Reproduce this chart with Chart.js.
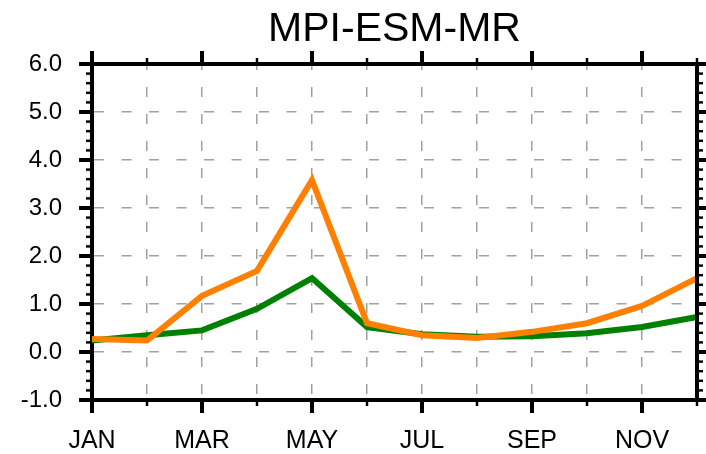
<!DOCTYPE html>
<html>
<head>
<meta charset="utf-8">
<title>MPI-ESM-MR</title>
<script src="https://cdn.jsdelivr.net/npm/chart.js@4"></script>
<style>
    body { margin: 0; background: #fff; }
    canvas { display: block; }
</style>
</head>
<body>
<canvas id="chart" width="706" height="454"></canvas>
<script>
// Data
const months = ['JAN', 'FEB', 'MAR', 'APR', 'MAY', 'JUN', 'JUL', 'AUG', 'SEP', 'OCT', 'NOV', 'DEC'];
const orangeVals = [0.27, 0.24, 1.17, 1.69, 3.58, 0.60, 0.35, 0.29, 0.42, 0.60, 0.96, 1.54];
const greenVals = [0.24, 0.35, 0.45, 0.90, 1.54, 0.52, 0.37, 0.32, 0.33, 0.39, 0.52, 0.73];
const yMin = -1;
const yMax = 6;

const FONT = "'Liberation Sans', Arial, Helvetica, sans-serif";

// Outward tick marks on all four sides, plus top/right frame
const tickMarks = {
    id: 'tickMarks',
    afterDraw(chart) {
        const { ctx, chartArea: a, scales: { x, y } } = chart;
        const line = (x1, y1, x2, y2) => {
            ctx.beginPath();
            ctx.moveTo(x1, y1);
            ctx.lineTo(x2, y2);
            ctx.stroke();
        };
        ctx.save();
        ctx.strokeStyle = '#000';
        ctx.lineCap = 'butt';

        ctx.lineWidth = 4;
        ctx.beginPath();
        ctx.moveTo(a.left - 2, a.top);
        ctx.lineTo(a.right, a.top);
        ctx.lineTo(a.right, a.bottom + 2);
        ctx.stroke();

        for (let k = yMin * 5; k <= yMax * 5; k++) {
            const major = k % 5 === 0;
            const len = major ? 13 : 6;
            ctx.lineWidth = major ? 4 : 2.5;
            const py = y.getPixelForValue(k / 5);
            line(a.left - len, py, a.left, py);
            line(a.right, py, a.right + len, py);
        }

        months.forEach((m, i) => {
            const major = i % 2 === 0;
            const len = major ? 13 : 6;
            ctx.lineWidth = major ? 4 : 2.5;
            const px = x.getPixelForValue(i);
            line(px, a.bottom, px, a.bottom + len);
            line(px, a.top - len, px, a.top);
        });
        ctx.restore();
    }
};

const ctx = document.getElementById('chart').getContext('2d');
new Chart(ctx, {
    type: 'line',
    data: {
        labels: months,
        datasets: [{
            data: orangeVals,
            borderColor: '#ff8000',
            borderWidth: 6,
            pointRadius: 0,
            tension: 0,
            order: 0,
        }, {
            data: greenVals,
            borderColor: '#008000',
            borderWidth: 6,
            pointRadius: 0,
            tension: 0,
            order: 1,
        }],
    },
    options: {
        responsive: false,
        animation: false,
        devicePixelRatio: 1,
        layout: { padding: { left: 0, right: 9, top: 0, bottom: 0 } },
        plugins: {
            legend: { display: false },
            tooltip: { enabled: false },
            title: {
                display: true,
                text: 'MPI-ESM-MR',
                fullSize: false,
                color: '#000',
                font: { family: FONT, size: 41, weight: 'normal', lineHeight: 1 },
                padding: { top: 9, bottom: 14 },
            },
        },
        scales: {
            x: {
                type: 'category',
                offset: false,
                afterFit(scale) {
                    scale.height = 54;
                    scale.paddingLeft = 0;
                    scale.paddingRight = 0;
                },
                grid: {
                    color: '#a0a0a0',
                    lineWidth: 1.5,
                    drawTicks: false,
                },
                border: { display: true, color: '#000', width: 4, dash: [10, 17], dashOffset: 4 },
                ticks: {
                    autoSkip: false,
                    maxRotation: 0,
                    padding: 29,
                    color: '#000',
                    font: { family: FONT, size: 25, lineHeight: 1 },
                    callback: (v, i) => (i % 2 === 0 ? months[i] : ''),
                },
            },
            y: {
                min: yMin,
                max: yMax,
                afterFit(scale) {
                    scale.width = 92;
                    scale.paddingTop = 0;
                    scale.paddingBottom = 0;
                },
                grid: {
                    color: '#a0a0a0',
                    lineWidth: 1.5,
                    drawTicks: false,
                },
                border: { display: true, color: '#000', width: 4, dash: [10, 17.5] },
                ticks: {
                    stepSize: 1,
                    padding: 30,
                    color: '#000',
                    font: { family: FONT, size: 24, lineHeight: 1 },
                    callback: v => v.toFixed(1),
                },
            },
        },
    },
    plugins: [tickMarks],
});
</script>
</body>
</html>
